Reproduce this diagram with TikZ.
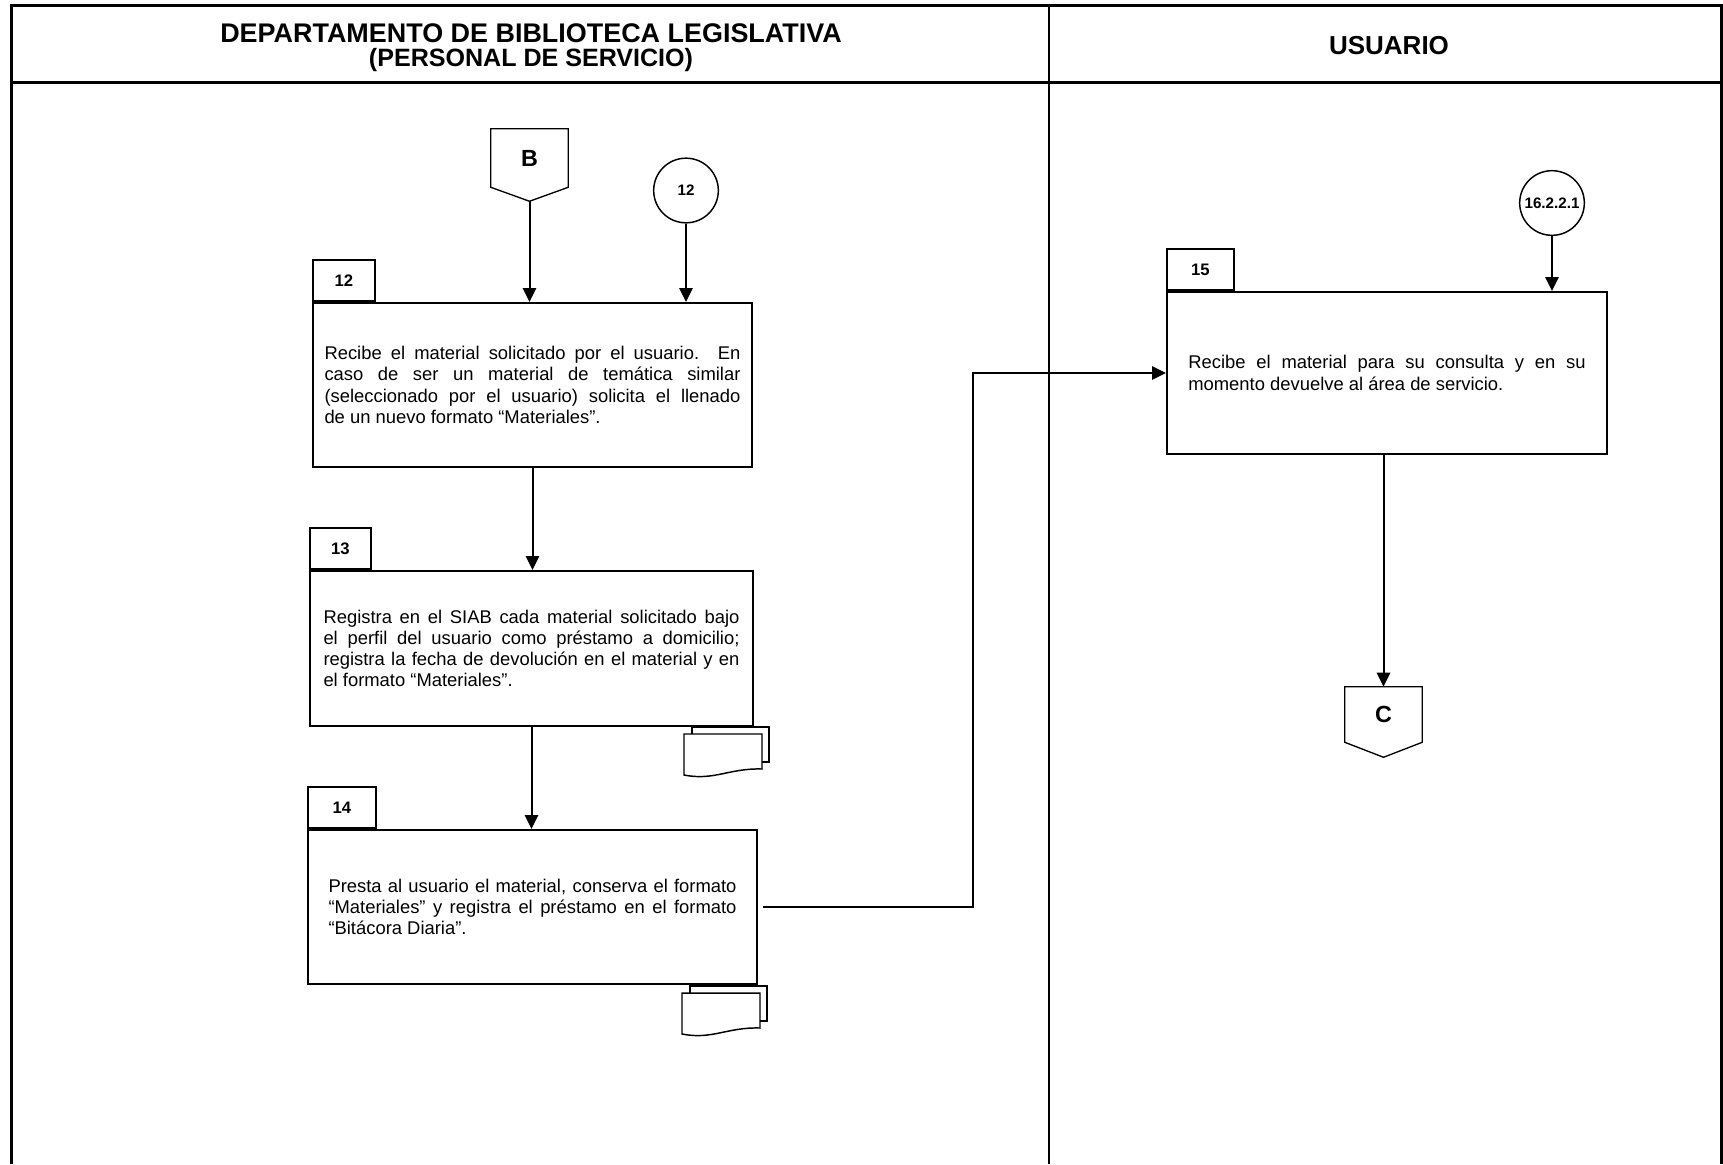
\documentclass[tikz,border=0pt]{standalone}
\usepackage{fontspec}
\setmainfont{Liberation Sans}
\usetikzlibrary{arrows,arrows.meta}

\begin{document}
\begin{tikzpicture}[x=0.75pt,y=-0.75pt]
    \tikzset{act/.style = {shape=rectangle, draw, line width=1.5pt, align=justify, inner sep=0pt,
        font=\fontsize{13.8}{15.9}\selectfont, execute at begin node={\tolerance=9999 \hyphenpenalty=10000}}}
    \tikzset{tab/.style = {shape=rectangle, draw, line width=1.4pt, anchor=south west, inner sep=0pt, minimum height=30.75pt, font=\bfseries\fontsize{12.5}{15}\selectfont}}
    \tikzset{conn/.style = {shape=circle, draw, line width=1.1pt, minimum size=48.5pt, inner sep=0pt, font=\bfseries\fontsize{11.4}{13}\selectfont}}
    \tikzset{offpage/.style = {shape=rectangle, minimum width=57.75pt, inner sep=0pt, font=\bfseries\fontsize{17.5}{20}\selectfont}}
    \tikzset{pageline/.style = {draw, line width=1pt}}
    \tikzset{flow/.style = {draw, line width=1.5pt, -{Triangle[length=10.5pt,width=10pt]}}}
    \tikzset{border/.style = {draw, line width=2.25pt}}
    \tikzset{laneline/.style = {draw, line width=1.1pt}}
    \tikzset{docsym/.pic = {
        \draw[line width=1.1pt] (8,-7) rectangle (85,28);
        \draw[line width=1.1pt, fill=white] (0,0) -- (78,0) -- (78,35) .. controls (45,34) and (30,47) .. (0,41) -- cycle;
    }}

    % lanes
    \useasboundingbox (0,0) rectangle (1723,1164);
    \draw[border] (11,1164) -- (11,5) -- (1721,5) -- (1721,1164);
    \draw[border] (11,82) -- (1721,82);
    \draw[laneline] (1049,5) -- (1049,1164);
    \node[font=\bfseries\fontsize{20.2}{22}\selectfont] (depto) at (531,33.5) {DEPARTAMENTO DE BIBLIOTECA LEGISLATIVA};
    \node[font=\bfseries\fontsize{18.8}{20}\selectfont] (personal) at (531,60.5) {(PERSONAL DE SERVICIO)};
    \node[font=\bfseries\fontsize{19.5}{22}\selectfont] (usuario) at (1389,46) {USUARIO};

    % activities
    \node[act, minimum width=329.25pt, minimum height=123pt, text width=312pt] (a12) at (532.5,385)
        {Recibe el material solicitado por el usuario. En\linebreak caso de ser un material de temática similar\linebreak (seleccionado por el usuario) solicita el llenado\linebreak de un nuevo formato “Materiales”.};
    \node[act, minimum width=332.25pt, minimum height=116.25pt, text width=312pt] (a13) at (531.5,648.5)
        {Registra en el SIAB cada material solicitado bajo\linebreak el perfil del usuario como préstamo a domicilio;\linebreak registra la fecha de devolución en el material y en\linebreak el formato “Materiales”.};
    \node[act, minimum width=336.75pt, minimum height=115.5pt, text width=306pt] (a14) at (532.5,907)
        {Presta al usuario el material, conserva el formato\linebreak “Materiales” y registra el préstamo en el formato\linebreak “Bitácora Diaria”.};
    \node[act, minimum width=330pt, minimum height=121.5pt, text width=298pt] (a15) at (1387,373)
        {Recibe el material para su consulta y en su\linebreak momento devuelve al área de servicio.};

    % numbers
    \node[tab, minimum width=46.5pt] (n12) at (a12.north west) {12};
    \node[tab, minimum width=45.75pt] (n13) at (a13.north west) {13};
    \node[tab, minimum width=51pt] (n14) at (a14.north west) {14};
    \node[tab, minimum width=50.25pt] (n15) at (a15.north west) {15};

    % connectors
    \node[offpage, minimum height=43.5pt] (B) at (529.5,158) {B};
    \draw[pageline] (B.north west) -- (B.north east) -- (B.south east) -- ([yshift=-10.5pt]B.south) -- (B.south west) -- cycle;
    \node[offpage, minimum height=41.25pt] (C) at (1383.5,714.5) {C};
    \draw[pageline] (C.north west) -- (C.north east) -- (C.south east) -- ([yshift=-11.25pt]C.south) -- (C.south west) -- cycle;
    \node[conn] (c12) at (686,190.5) {12};
    \node[conn] (c16) at (1552,203) {16.2.2.1};
    \coordinate (bend) at (973,0);

    % documents
    \pic at ([shift={(-70,7)}]a13.south east) {docsym};
    \pic at ([shift={(-76,8)}]a14.south east) {docsym};

    % edges
    \draw[flow] ([yshift=-10.5pt]B.south) -- (B.south |- a12.north);
    \draw[flow] (c12.south) -- (c12.south |- a12.north);
    \draw[flow] (a12.south) -- (a12.south |- a13.north);
    \draw[flow] (a13.south) -- (a13.south |- a14.north);
    \draw[flow] ([xshift=3.75pt]a14.east) -- (a14.east -| bend) |- (a15.west);
    \draw[flow] (c16.south) -- (c16.south |- a15.north);
    \draw[flow] (a15.south -| C.north) -- (C.north);
\end{tikzpicture}
\end{document}
